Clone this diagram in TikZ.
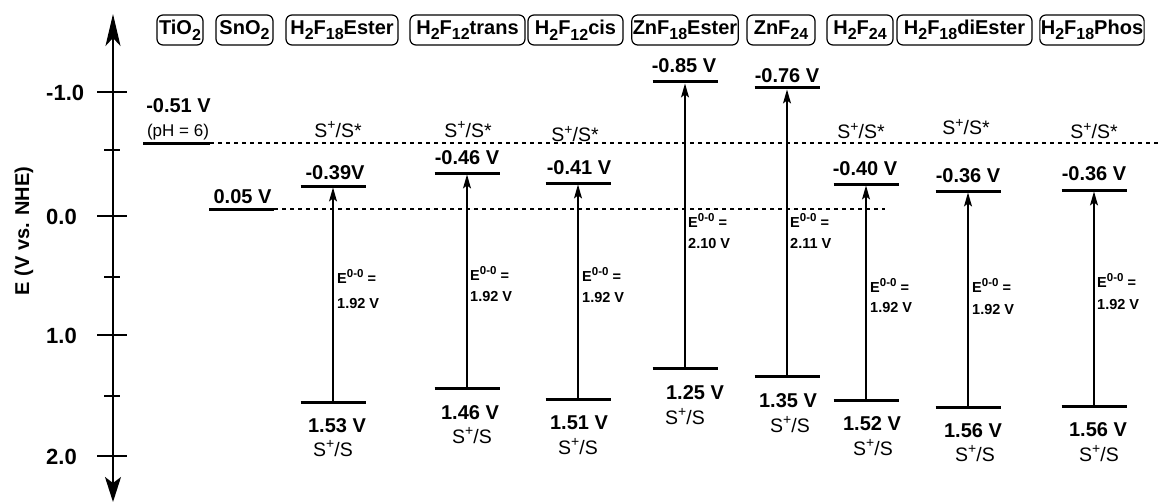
\documentclass[tikz,border=0pt]{standalone}
\usepackage{fontspec}
\setmainfont{Liberation Sans}
\usetikzlibrary{arrows.meta}
\newcommand\dsub[1]{\raisebox{-0.28em}{\fontsize{16}{16}\selectfont #1}}
\newcommand\dsup[1]{\raisebox{0.36em}{\fontsize{14}{14}\selectfont #1}}
\newcommand\esup[1]{\raisebox{0.36em}{\fontsize{11.5}{12}\selectfont #1}}
\begin{document}
\begin{tikzpicture}[x=1pt,y=-1pt,
  lvl/.style={line width=3pt},
  arr/.style={line width=1.3pt,-{Stealth[length=14pt,width=8pt,inset=3pt]},shorten <=1.5pt,shorten >=1.5pt},
  dsh/.style={line width=1.3pt,dash pattern=on 4pt off 4pt},
  tick/.style={line width=1.5pt},
  val/.style={font=\bfseries\fontsize{20}{24}\selectfont,inner sep=0pt,anchor=base},
  ss/.style={font=\fontsize{19.5}{22}\selectfont,inner sep=0pt,anchor=base},
  eo/.style={font=\bfseries\fontsize{14.5}{17}\selectfont,inner sep=0pt,anchor=base west},
  axl/.style={font=\bfseries\fontsize{22}{26}\selectfont,inner sep=0pt,anchor=base west},
  tag/.style={draw,line width=1.2pt,rounded corners=6pt,minimum height=30pt,inner xsep=1pt,inner ysep=0pt,
              font=\bfseries\fontsize{20}{24}\selectfont}]
\useasboundingbox (0,0) rectangle (1163,503);

% axis
\coordinate (atop) at (113,14);
\coordinate (abot) at (113,502);
\draw[line width=1.8pt,{Stealth[length=32pt,width=15pt,inset=8pt]}-{Stealth[length=25pt,width=16pt,inset=6pt]}] (atop) -- (abot);
\foreach \y/\w in {92/15,150/8,216/15,277/8,335/15,396/8,456/15}
  \draw[tick] (112-\w,\y) -- (112+\w,\y);
\node[axl] (l1) at (46,100) {-1.0};
\node[axl] (l2) at (46,224) {0.0};
\node[axl] (l3) at (46,343) {1.0};
\node[axl] (l4) at (46,464) {2.0};
\node[font=\bfseries\fontsize{20}{24}\selectfont,rotate=90,inner sep=0pt] (ylab) at (24,231) {E (V vs. NHE)};

% tags
\foreach \n/\cx/\w/\t in {
  tio/180/46/{TiO\dsub{2}},
  sno/244.5/57/{SnO\dsub{2}},
  c1/342/112/{H\dsub{2}F\dsub{18}Ester},
  c2/467.5/115/{H\dsub{2}F\dsub{12}trans},
  c3/575.5/95/{H\dsub{2}F\dsub{12}cis},
  c4/685/104/{ZnF\dsub{18}Ester},
  c5/781/68/{ZnF\dsub{24}},
  c6/860/66/{H\dsub{2}F\dsub{24}},
  c7/964.5/135/{H\dsub{2}F\dsub{18}diEster},
  c8/1092/102/{H\dsub{2}F\dsub{18}Phos}}
  \node[tag,minimum width=\w pt] (tag\n) at (\cx,30) {\t};

% TiO2 and SnO2 levels
\coordinate (tioL) at (143,143);
\coordinate (tioR) at (210,143);
\coordinate (tioE) at (1160,143);
\draw[lvl] (tioL) -- (tioR);
\draw[dsh] (tioR) -- (tioE);
\node[val] (tiov) at (178.5,113) {-0.51 V};
\node[font=\fontsize{17}{20}\selectfont,inner sep=0pt,anchor=base] (tioph) at (178,136) {(pH = 6)};

\coordinate (snoL) at (209,209);
\coordinate (snoR) at (274,209);
\coordinate (snoE) at (885,209);
\draw[lvl] (snoL) -- (snoR);
\draw[dsh] (snoR) -- (snoE);
\node[val] (snov) at (242.5,203) {0.05 V};

% dye columns
\foreach \n/\ax/\ty/\by/\tl/\tlx/\tly/\bl/\blx/\bly/\ssx/\ssy/\ex/\eya/\eyb/\ev in {
  1/333/186/402/{-0.39V}/335/179/{1.53 V}/337/432/333/456/337/283/308/{1.92 V},
  2/467/173/388/{-0.46 V}/467/164/{1.46 V}/470/419/472/443/470/280/301/{1.92 V},
  3/578/183/399/{-0.41 V}/579/174/{1.51 V}/579/429/578/454/582/281/302/{1.92 V},
  4/685/82/368/{-0.85 V}/684/73/{1.25 V}/695/399/685/424/688/227/248/{2.10 V},
  5/787/88/376/{-0.76 V}/787/82/{1.35 V}/788/407/790/432/790/227/248/{2.11 V},
  6/866/184/400/{-0.40 V}/865/175/{1.52 V}/872/430/873/455/870/292/312/{1.92 V},
  7/968/191/407/{-0.36 V}/968/182/{1.56 V}/973/437/975/461/972/292/314/{1.92 V},
  8/1094/190/406/{-0.36 V}/1094/180/{1.56 V}/1098/436/1099/461/1097/287/309/{1.92 V}} {
  \coordinate (t\n) at (\ax,\ty);
  \coordinate (b\n) at (\ax,\by);
  \draw[lvl] ([xshift=-32.5pt]t\n) -- ([xshift=32.5pt]t\n);
  \draw[lvl] ([xshift=-32.5pt]b\n) -- ([xshift=32.5pt]b\n);
  \draw[arr] (b\n) -- (t\n);
  \node[val] (tv\n) at (\tlx,\tly) {\tl};
  \node[val] (bv\n) at (\blx,\bly) {\bl};
  \node[ss] (bs\n) at (\ssx,\ssy) {S\dsup{+}/S};
  \node[eo] (ea\n) at (\ex,\eya) {E\esup{0-0} =};
  \node[eo] (eb\n) at (\ex,\eyb) {\ev};
}

% S+/S* labels
\foreach \n/\x/\y in {1/338/137,2/468/137,3/575/142,6/861/139,7/966/135,8/1094/139}
  \node[ss] (st\n) at (\x,\y) {S\dsup{+}/S*};

\end{tikzpicture}
\end{document}
